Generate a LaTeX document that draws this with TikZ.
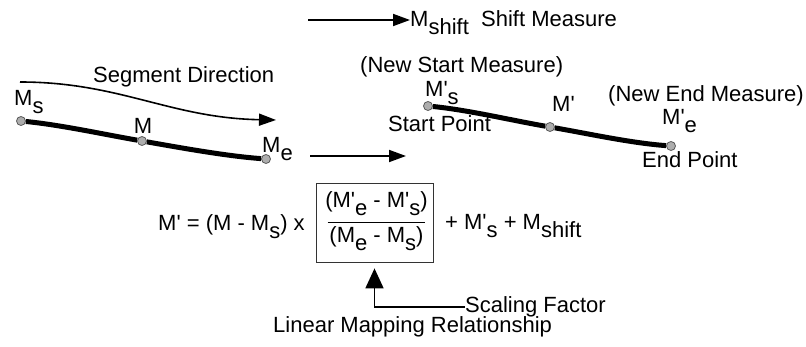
\documentclass[tikz,border=0pt]{standalone}
\usepackage{fontspec}
\setmainfont{Liberation Sans}[Ligatures=TeXOff]
\usetikzlibrary{arrows.meta}
\newcommand{\low}[1]{\raisebox{-7.5pt}{#1}}

\begin{document}
\begin{tikzpicture}[x=1pt, y=-1pt, font=\fontsize{22}{26}\selectfont,
    measure/.style ={circle, draw=black!65, fill=black!32, line width=0.8pt, inner sep=0pt, minimum size=9pt},
    caption/.style ={inner sep=0pt, anchor=base west},
    pointer/.style ={line width=1.8pt, -{Triangle[length=17pt,width=12pt]}}]
   \useasboundingbox (0,0) rectangle (806,347);
   % shift
   \coordinate (shiftfrom) at (308,20);
   \node[caption] (Mshift) at (410,27) {M\low{shift}};
   \node[caption] (shiftmeasure) at (481,27) {Shift Measure};
   \draw[pointer] (shiftfrom) -- (shiftfrom -| Mshift.west);
   % original segment
   \node[measure] (Ms) at (21,121) {};
   \node[measure] (M) at (142,141) {};
   \node[measure] (Me) at (266,159) {};
   \node[caption] (Mslab) at (14,106) {M\low{s}};
   \node[caption, anchor=base] (Mlab) at (143,134) {M};
   \node[caption] (Melab) at (262,153) {M\low{e}};
   \draw[line width=5pt] (Ms) .. controls +(40,4) and +(-40,-7) .. (M);
   \draw[line width=5pt] (M) .. controls +(40,7) and +(-40,-3) .. (Me);
   \coordinate (dirfrom) at (20,82);
   \coordinate (dirto) at (276,120);
   \node[caption] (direction) at (93,83) {Segment Direction};
   \draw[pointer, line width=1.6pt] (dirfrom) .. controls (120,82) and (170,118) .. (dirto);
   % mapping
   \coordinate (mapfrom) at (310,156);
   \coordinate (mapto) at (406,156);
   \draw[pointer] (mapfrom) -- (mapto);
   % new segment
   \node[measure] (Nms) at (428,106) {};
   \node[measure] (Nm) at (550,127) {};
   \node[measure] (Nme) at (671,146) {};
   \node[caption] (newstart) at (360,73) {(New Start Measure)};
   \node[caption] (Nmslab) at (425,97) {M'\low{s}};
   \node[caption] (startpoint) at (388,132) {Start Point};
   \node[caption] (Nmlab) at (552,112) {M'};
   \node[caption] (newend) at (608,102) {(New End Measure)};
   \node[caption] (Nmelab) at (662,125) {M'\low{e}};
   \node[caption] (endpoint) at (642,168) {End Point};
   \draw[line width=5pt] (Nms) .. controls +(40,4) and +(-40,-7) .. (Nm);
   \draw[line width=5pt] (Nm) .. controls +(40,7) and +(-40,-3) .. (Nme);
   % formula
   \node[caption] (lhs) at (158,231) {M' = (M - M\low{s}) x};
   \node[draw=black!80, line width=0.8pt, minimum width=117pt, minimum height=79pt, inner sep=0pt] (factor) at (374.5,222.5) {};
   \node[caption, anchor=base] (num) at (376.5,208) {(M'\low{e} - M'\low{s})};
   \node[caption, anchor=base] (den) at (376.5,243) {(M\low{e} - M\low{s})};
   \draw[line width=0.8pt] ([xshift=12pt]factor.west) -- ([xshift=-8pt]factor.east);
   \node[caption] (rhs) at (445,230) {+ M'\low{s} + M\low{shift}};
   \node[caption] (scaling) at (465,313) {Scaling Factor};
   \draw[line width=1.8pt, -{Triangle[length=20pt,width=18pt]}, shorten >=6pt] (scaling.west) -| (factor.south);
   \node[caption] (mapping) at (273,333) {Linear Mapping Relationship};
 \end{tikzpicture}
\end{document}
